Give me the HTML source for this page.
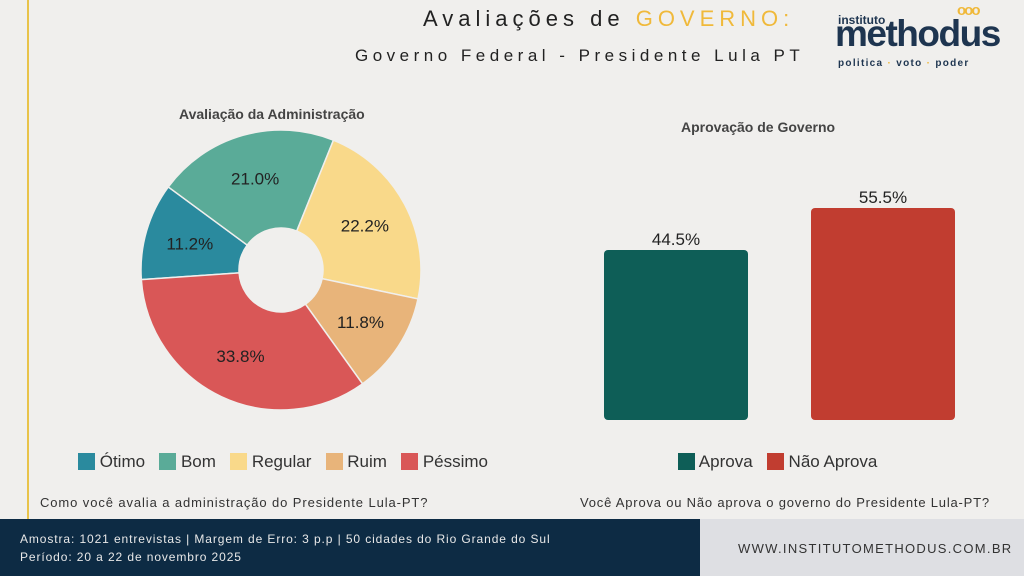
<!DOCTYPE html>
<html><head><meta charset="utf-8"><style>
body{margin:0;width:1024px;height:576px;background:#f0efed;font-family:"Liberation Sans",sans-serif;position:relative;overflow:hidden}
.t{position:absolute;white-space:nowrap}
</style></head><body>
<div class="t" style="left:0;top:0;width:27px;height:519px;border-right:2px solid #e8c34a"></div>
<div class="t" style="left:423px;top:6px;font-size:22px;letter-spacing:5px;color:#222">Avaliações de <span style="color:#f0b93a">GOVERNO:</span></div>
<div class="t" style="left:355px;top:46px;font-size:17px;letter-spacing:4.5px;color:#222">Governo Federal - Presidente Lula PT</div>
<div class="t" style="left:838px;top:13px;font-size:12px;color:#1e3550;font-weight:bold">instituto</div>
<div class="t" style="left:835px;top:13px;font-size:37px;color:#1e3550;font-weight:bold;letter-spacing:-1.5px">methodus</div>
<div class="t" style="left:838px;top:58px;font-size:10px;color:#1e3550;font-weight:bold;letter-spacing:1.3px">politica <span style="color:#f0b93a">·</span> voto <span style="color:#f0b93a">·</span> poder</div>
<div class="t" style="left:957px;top:2px;font-size:15px;color:#f0b93a;font-weight:bold;letter-spacing:-2px">ooo</div>
<div class="t" style="left:179px;top:106px;font-size:14px;font-weight:bold;color:#444">Avaliação da Administração</div>
<div class="t" style="left:681px;top:119px;font-size:14px;font-weight:bold;color:#444">Aprovação de Governo</div>
<svg class="t" style="left:0;top:0" width="1024" height="576" id="s">
<rect x="604" y="250" width="144" height="170" rx="4" fill="#0e5e57"/>
<rect x="811" y="208" width="144" height="212" rx="4" fill="#c13d30"/>
<text x="676" y="245" font-size="17" text-anchor="middle" fill="#222">44.5%</text>
<text x="883" y="203" font-size="17" text-anchor="middle" fill="#222">55.5%</text>
</svg>
<div class="t" style="left:78px;top:452px;font-size:17px;color:#333">
<span style="display:inline-block;width:17px;height:17px;background:#2a8a9e;vertical-align:-3px"></span> Ótimo&nbsp;&nbsp;
<span style="display:inline-block;width:17px;height:17px;background:#5aab98;vertical-align:-3px"></span> Bom&nbsp;&nbsp;
<span style="display:inline-block;width:17px;height:17px;background:#f9d98a;vertical-align:-3px"></span> Regular&nbsp;&nbsp;
<span style="display:inline-block;width:17px;height:17px;background:#e8b47a;vertical-align:-3px"></span> Ruim&nbsp;&nbsp;
<span style="display:inline-block;width:17px;height:17px;background:#d95757;vertical-align:-3px"></span> Péssimo</div>
<div class="t" style="left:678px;top:452px;font-size:17px;color:#333">
<span style="display:inline-block;width:17px;height:17px;background:#0e5e57;vertical-align:-3px"></span> Aprova&nbsp;&nbsp;
<span style="display:inline-block;width:17px;height:17px;background:#c13d30;vertical-align:-3px"></span> Não Aprova</div>
<div class="t" style="left:40px;top:495px;font-size:13px;color:#333;letter-spacing:0.9px">Como você avalia a administração do Presidente Lula-PT?</div>
<div class="t" style="left:580px;top:495px;font-size:13px;color:#333;letter-spacing:0.8px">Você Aprova ou Não aprova o governo do Presidente Lula-PT?</div>
<div class="t" style="left:0;top:519px;width:700px;height:57px;background:#0d2b44"></div>
<div class="t" style="left:700px;top:519px;width:324px;height:57px;background:#dedfe3"></div>
<div class="t" style="left:20px;top:532px;font-size:12px;color:#e8e8e8;letter-spacing:0.9px">Amostra: 1021 entrevistas | Margem de Erro: 3 p.p | 50 cidades do Rio Grande do Sul</div>
<div class="t" style="left:20px;top:550px;font-size:12px;color:#e8e8e8;letter-spacing:0.9px">Período: 20 a 22 de novembro 2025</div>
<div class="t" style="left:738px;top:541px;font-size:13px;color:#333;letter-spacing:1.3px">WWW.INSTITUTOMETHODUS.COM.BR</div>
<script>
var s=document.getElementById('s'),cx=281,cy=270,R=140,r=42;
var d=[[11.2,'#2a8a9e'],[21.0,'#5aab98'],[22.2,'#f9d98a'],[11.8,'#e8b47a'],[33.8,'#d95757']];
var a=22-(21.0+11.2)*3.6,h='';
function p(ang,rad){var t=ang*Math.PI/180;return [cx+rad*Math.sin(t),cy-rad*Math.cos(t)];}
d.forEach(function(x){var b=a+x[0]*3.6,l=x[0]>50?1:0,A=p(a,R),B=p(b,R),C=p(b,r),D=p(a,r);
h+='<path d="M'+A+'A'+R+','+R+' 0 '+l+' 1 '+B+'L'+C+'A'+r+','+r+' 0 '+l+' 0 '+D+'Z" fill="'+x[1]+'" stroke="#f0efed" stroke-width="1.5"/>';
var m=p((a+b)/2,95);h+='<text x="'+m[0]+'" y="'+(m[1]+6)+'" font-size="17" text-anchor="middle" fill="#222">'+x[0].toFixed(1)+'%</text>';a=b;});
s.insertAdjacentHTML('beforeend',h);
</script>
</body></html>
